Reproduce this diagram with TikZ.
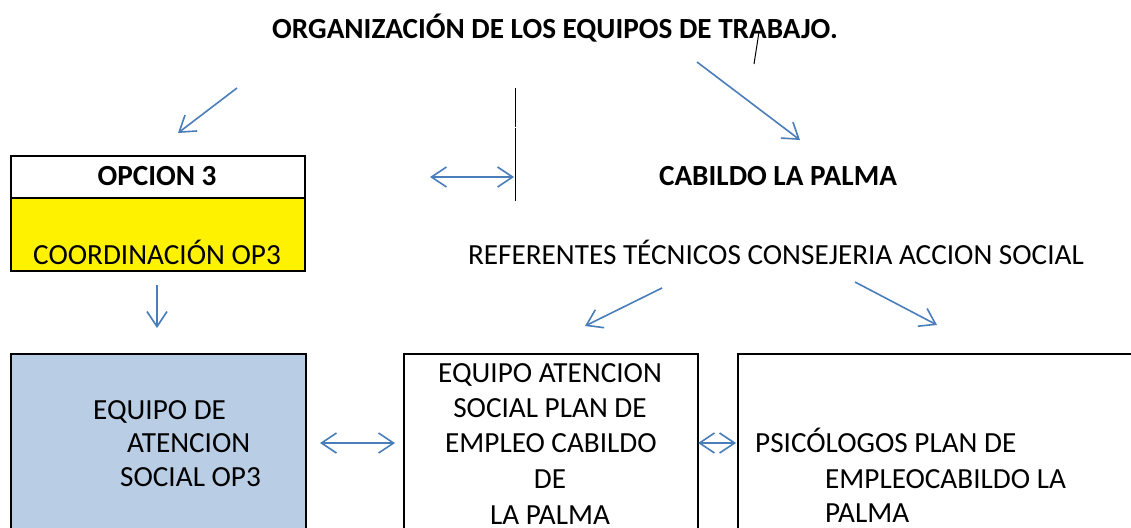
\documentclass[tikz,border=0pt]{standalone}
\usepackage{fontspec}
\setmainfont{Carlito}
\usetikzlibrary{arrows.meta}
\definecolor{arrowblue}{HTML}{4A7EBB}
\definecolor{boxblue}{HTML}{B9CDE5}
\begin{document}
\begin{tikzpicture}[x=1pt,y=-1pt,
  txt/.style={inner sep=0pt, font=\fontsize{29.2}{34}\selectfont},
  btxt/.style={inner sep=0pt, font=\fontsize{29.2}{34}\selectfont\bfseries},
  boxframe/.style={draw=black, line width=2pt, inner sep=0pt, anchor=north west},
  tip/.tip={Straight Barb[length=15pt,width=20pt]},
  barrow/.style={draw=arrowblue, line width=1.6pt, -tip},
  dbarrow/.style={draw=arrowblue, line width=1.6pt, tip-tip},
  thinline/.style={draw=black, line width=1pt},
]
\useasboundingbox (0,0) rectangle (1131,527);
\clip (0,0) rectangle (1131,527);
\fill[white] (0,0) rectangle (1131,527);

% boxes
\node[boxframe, fill=white, minimum width=294pt, minimum height=42pt] (opc) at (10,155) {};
\node[boxframe, fill=yellow, minimum width=294pt, minimum height=73pt] (coord) at (10,197) {};
\node[boxframe, fill=boxblue, minimum width=295pt, minimum height=220pt] (eqop) at (10,353) {};
\node[boxframe, fill=white, minimum width=294pt, minimum height=220pt] (eqcab) at (403,353) {};
\node[boxframe, fill=white, minimum width=420pt, minimum height=220pt] (psi) at (737,353) {};

% texts
\node[btxt, anchor=base] (title) at (555,39) {ORGANIZACIÓN DE LOS EQUIPOS DE TRABAJO.};
\node[btxt, anchor=base] (opct) at (157,185) {OPCION 3};
\node[txt, anchor=base] (coordt) at (157,264) {COORDINACIÓN OP3};
\node[btxt, anchor=base] (cab) at (778,185) {CABILDO LA PALMA};
\node[txt, anchor=base] (ref) at (776,264) {REFERENTES TÉCNICOS CONSEJERIA ACCION SOCIAL};

\node[txt, anchor=base west] (e1) at (93,419) {EQUIPO DE};
\node[txt, anchor=base west] (e2) at (127,452) {ATENCION};
\node[txt, anchor=base west] (e3) at (120,486) {SOCIAL OP3};

\node[txt, anchor=base] (m1) at (550,382) {EQUIPO ATENCION};
\node[txt, anchor=base] (m2) at (550,417) {SOCIAL PLAN DE};
\node[txt, anchor=base] (m3) at (551,452) {EMPLEO CABILDO};
\node[txt, anchor=base] (m4) at (550,488) {DE};
\node[txt, anchor=base] (m5) at (550,524) {LA PALMA};

\node[txt, anchor=base west] (p1) at (755,452) {PSICÓLOGOS PLAN DE};
\node[txt, anchor=base west] (p2) at (825,488) {EMPLEOCABILDO LA};
\node[txt, anchor=base west] (p3) at (825,522) {PALMA};

% connector end points
\coordinate (s1) at (754,64);  \coordinate (s2) at (759,32);
\coordinate (v1) at (515,88);  \coordinate (v2) at (515,127);
\coordinate (v3) at (515,128); \coordinate (v4) at (515,201);
\coordinate (a1s) at (237,88);  \coordinate (a1e) at (178,133);
\coordinate (a2s) at (697,62);  \coordinate (a2e) at (800,140);
\coordinate (d1s) at (430,177); \coordinate (d1e) at (514,177);
\coordinate (a3s) at (157,285); \coordinate (a3e) at (157,328);
\coordinate (a4s) at (662,288); \coordinate (a4e) at (585,326);
\coordinate (a5s) at (855,282); \coordinate (a5e) at (937,325);
\coordinate (d2s) at (320,443); \coordinate (d2e) at (395,443);
\coordinate (d3s) at (698,443); \coordinate (d3e) at (736,443);

% black lines
\draw[thinline] (s1) -- (s2);
\draw[thinline] (v1) -- (v2);
\draw[thinline] (v3) -- (v4);

% blue arrows
\draw[barrow] (a1s) -- (a1e);
\draw[barrow] (a2s) -- (a2e);
\draw[dbarrow] (d1s) -- (d1e);
\draw[barrow] (a3s) -- (a3e);
\draw[barrow] (a4s) -- (a4e);
\draw[barrow] (a5s) -- (a5e);
\draw[dbarrow] (d2s) -- (d2e);
\draw[dbarrow] (d3s) -- (d3e);
\end{tikzpicture}
\end{document}
